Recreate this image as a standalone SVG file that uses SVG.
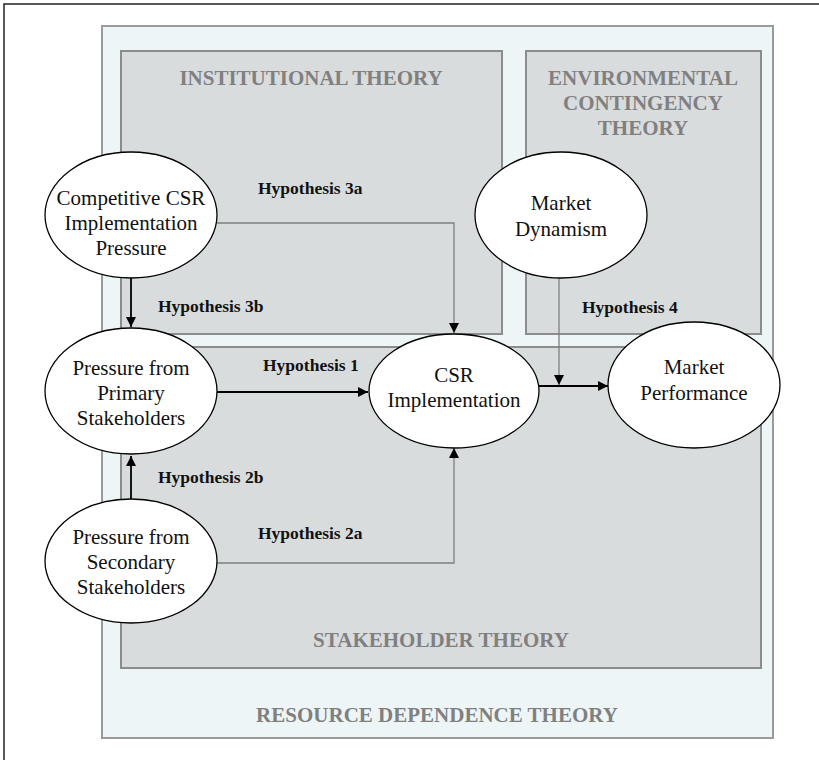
<svg xmlns="http://www.w3.org/2000/svg" width="819" height="760" viewBox="0 0 819 760">
<style>
.frame{fill:none;stroke:#222;stroke-width:1.5}
.outer{fill:#edf5f7;stroke:#9a9a9a;stroke-width:2}
.theory{fill:#d9dcdd;stroke:#8c8c8c;stroke-width:2}
.ttl{font-family:"Liberation Serif","Times New Roman",serif;font-weight:bold;font-size:21px;fill:#808080;text-anchor:middle}
.node ellipse{fill:#fff;stroke:#000;stroke-width:1.3}
.node text{font-family:"Liberation Serif","Times New Roman",serif;font-size:21px;fill:#111;text-anchor:middle}
.hyp{font-family:"Liberation Serif","Times New Roman",serif;font-weight:bold;font-size:17.5px;fill:#111}
.blk{fill:none;stroke:#000;stroke-width:1.8}
.gry{fill:none;stroke:#7f7f7f;stroke-width:1.3}
</style>
<defs>
<marker id="ah" markerUnits="userSpaceOnUse" markerWidth="11" markerHeight="10" refX="10" refY="5" orient="auto">
<path d="M0,0 L10,5 L0,10 z" fill="#000"/>
</marker>
</defs>
<path class="frame" d="M4,760 V4 H819"/>
<g id="resource-dependence-theory">
<rect class="outer" x="102" y="26" width="671" height="712"/>
<text class="ttl" x="437" y="722">RESOURCE DEPENDENCE THEORY</text>
</g>
<g id="institutional-theory">
<rect class="theory" x="121" y="51" width="381" height="283"/>
<text class="ttl" x="311" y="85">INSTITUTIONAL THEORY</text>
</g>
<g id="environmental-contingency-theory">
<rect class="theory" x="526" y="51" width="235" height="283"/>
<text class="ttl" x="643" y="85">ENVIRONMENTAL</text>
<text class="ttl" x="643" y="110">CONTINGENCY</text>
<text class="ttl" x="643" y="135">THEORY</text>
</g>
<g id="stakeholder-theory">
<rect class="theory" x="121" y="347" width="640" height="321"/>
<text class="ttl" x="441" y="647">STAKEHOLDER THEORY</text>
</g>
<g id="connectors">
<path class="gry" d="M217,223 H454 V333" marker-end="url(#ah)"/>
<path class="blk" d="M131,278 V327" marker-end="url(#ah)"/>
<path class="blk" d="M217,392 H368" marker-end="url(#ah)"/>
<path class="blk" d="M131,499 V456" marker-end="url(#ah)"/>
<path class="gry" d="M217,563 H454 V448" marker-end="url(#ah)"/>
<path class="gry" d="M559,278 V385" marker-end="url(#ah)"/>
<path class="blk" d="M539,386 H608" marker-end="url(#ah)"/>
<text class="hyp" x="258" y="194">Hypothesis 3a</text>
<text class="hyp" x="158" y="312">Hypothesis 3b</text>
<text class="hyp" x="263" y="371">Hypothesis 1</text>
<text class="hyp" x="582" y="313">Hypothesis 4</text>
<text class="hyp" x="158" y="483">Hypothesis 2b</text>
<text class="hyp" x="258" y="539">Hypothesis 2a</text>
</g>
<g id="competitive-pressure" class="node">
<ellipse cx="131" cy="215" rx="86" ry="63"/>
<text x="131" y="205">Competitive CSR</text>
<text x="131" y="230">Implementation</text>
<text x="131" y="255">Pressure</text>
</g>
<g id="primary-stakeholders" class="node">
<ellipse cx="131" cy="391" rx="86" ry="63"/>
<text x="131" y="375">Pressure from</text>
<text x="131" y="400">Primary</text>
<text x="131" y="425">Stakeholders</text>
</g>
<g id="secondary-stakeholders" class="node">
<ellipse cx="131" cy="561" rx="86" ry="62"/>
<text x="131" y="544">Pressure from</text>
<text x="131" y="569">Secondary</text>
<text x="131" y="594">Stakeholders</text>
</g>
<g id="csr-implementation" class="node">
<ellipse cx="454" cy="391" rx="85" ry="57"/>
<text x="454" y="382">CSR</text>
<text x="454" y="407">Implementation</text>
</g>
<g id="market-dynamism" class="node">
<ellipse cx="561" cy="215" rx="86" ry="63"/>
<text x="561" y="210">Market</text>
<text x="561" y="236">Dynamism</text>
</g>
<g id="market-performance" class="node">
<ellipse cx="694" cy="385" rx="86" ry="63"/>
<text x="694" y="374">Market</text>
<text x="694" y="400">Performance</text>
</g>
</svg>
